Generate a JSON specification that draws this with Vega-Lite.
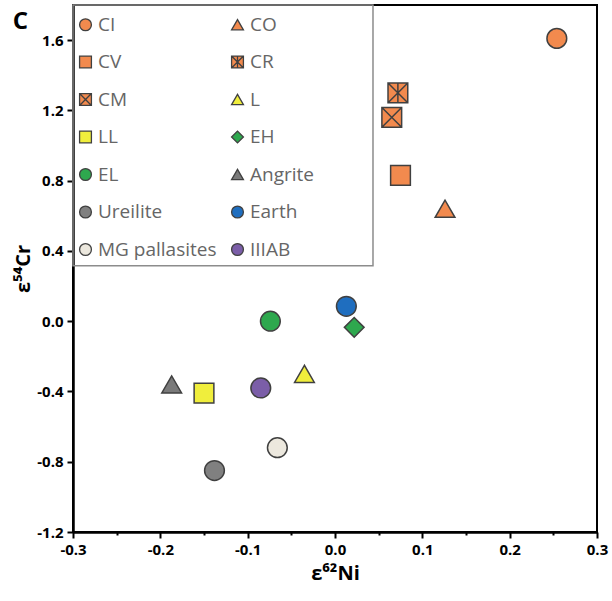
{
  "$schema": "https://vega.github.io/schema/vega-lite/v6.json",
  "width": 524,
  "height": 527,
  "autosize": {"type": "none"},
  "padding": {"left": 73, "top": 5, "right": 15, "bottom": 69},
  "background": "white",
  "config": {"view": {"stroke": "black", "strokeWidth": 2}, "font": "Open Sans"},
  "data": {"values": [
    {"group": "CI", "ni": 0.254, "cr": 1.61},
    {"group": "CO", "ni": 0.126, "cr": 0.64},
    {"group": "CV", "ni": 0.075, "cr": 0.83},
    {"group": "CR", "ni": 0.072, "cr": 1.30},
    {"group": "CM", "ni": 0.065, "cr": 1.16},
    {"group": "L", "ni": -0.035, "cr": -0.30},
    {"group": "LL", "ni": -0.15, "cr": -0.41},
    {"group": "EH", "ni": 0.022, "cr": -0.035},
    {"group": "EL", "ni": -0.074, "cr": 0.0},
    {"group": "Angrite", "ni": -0.187, "cr": -0.36},
    {"group": "Ureilite", "ni": -0.138, "cr": -0.85},
    {"group": "Earth", "ni": 0.013, "cr": 0.085},
    {"group": "MG pallasites", "ni": -0.066, "cr": -0.72},
    {"group": "IIIAB", "ni": -0.085, "cr": -0.38}
  ]},
  "layer": [
    {
      "data": {"values": [{}]},
      "mark": {"type": "rect", "fill": null, "stroke": "#8c8c8c", "strokeWidth": 1.5},
      "encoding": {
        "x": {"datum": -0.3, "type": "quantitative", "scale": {"domain": [-0.3, 0.3], "nice": false, "zero": false}, "title": "ε⁶²Ni"},
        "x2": {"datum": 0.0435},
        "y": {"datum": 1.8, "type": "quantitative", "scale": {"domain": [-1.2, 1.8], "nice": false, "zero": false}, "title": "ε⁵⁴Cr"},
        "y2": {"datum": 0.315}
      }
    },
    {
      "data": {"values": [{}]},
      "mark": {"type": "text", "text": "C", "align": "left", "baseline": "middle", "fontSize": 24, "fontWeight": "bold", "font": "Open Sans", "color": "black"},
      "encoding": {
        "x": {"datum": -0.369, "type": "quantitative", "scale": {"domain": [-0.3, 0.3], "nice": false, "zero": false}, "title": "ε⁶²Ni"},
        "y": {"datum": 1.705, "type": "quantitative", "scale": {"domain": [-1.2, 1.8], "nice": false, "zero": false}, "title": "ε⁵⁴Cr"}
      }
    },
    {
      "mark": {"type": "point", "filled": true, "size": 390, "stroke": "#404040", "strokeWidth": 1.5, "opacity": 1},
      "encoding": {
        "x": {
          "field": "ni", "type": "quantitative",
          "scale": {"domain": [-0.3, 0.3], "nice": false, "zero": false},
          "title": "ε⁶²Ni",
          "axis": {
            "values": [-0.3, -0.25, -0.2, -0.15, -0.1, -0.05, 0, 0.05, 0.1, 0.15, 0.2, 0.25, 0.3],
            "labelExpr": "abs(round(datum.value*100)) % 10 == 0 ? (datum.value < -0.001 ? '-' : '') + format(abs(datum.value), '.1f') : ''",
            "tickSize": {"condition": {"test": "abs(round(datum.value*100)) % 10 == 0", "value": 6}, "value": 3},
            "grid": false, "domainColor": "black", "domainWidth": 2.5, "tickColor": "black", "tickWidth": 2,
            "labelFont": "Open Sans", "labelFontSize": 15, "labelFontWeight": "bold", "labelColor": "black", "labelPadding": 4,
            "labelFlush": false, "labelOverlap": false, "labelBound": false,
            "titleFont": "Open Sans", "titleFontSize": 20, "titleFontWeight": "bold", "titleColor": "black", "titlePadding": 6
          }
        },
        "y": {
          "field": "cr", "type": "quantitative",
          "scale": {"domain": [-1.2, 1.8], "nice": false, "zero": false},
          "title": "ε⁵⁴Cr",
          "axis": {
            "values": [-1.2, -1.0, -0.8, -0.6, -0.4, -0.2, 0, 0.2, 0.4, 0.6, 0.8, 1.0, 1.2, 1.4, 1.6],
            "labelExpr": "abs(round(datum.value*10)) % 4 == 0 ? (datum.value < -0.001 ? '-' : '') + format(abs(datum.value), '.1f') : ''",
            "tickSize": {"condition": {"test": "abs(round(datum.value*10)) % 4 == 0", "value": 6}, "value": 3},
            "grid": false, "domainColor": "black", "domainWidth": 2.5, "tickColor": "black", "tickWidth": 2,
            "labelFont": "Open Sans", "labelFontSize": 15, "labelFontWeight": "bold", "labelColor": "black", "labelPadding": 4,
            "labelOverlap": false, "labelBound": false,
            "titleFont": "Open Sans", "titleFontSize": 20, "titleFontWeight": "bold", "titleColor": "black", "titlePadding": 3
          }
        },
        "color": {
          "field": "group", "type": "nominal",
          "scale": {
            "domain": ["CI", "CO", "CV", "CR", "CM", "L", "LL", "EH", "EL", "Angrite", "Ureilite", "Earth", "MG pallasites", "IIIAB"],
            "range": ["#F28A4E", "#F28A4E", "#F28A4E", "#F28A4E", "#F28A4E", "#F0EE3C", "#F0EE3C", "#2EA84E", "#2EA84E", "#7A7A7A", "#808080", "#1F6EBF", "#ECE8DE", "#7B5EA8"]
          },
          "legend": {"orient": "none", "legendX": 3, "legendY": 10, "columns": 2, "direction": "horizontal", "title": null, "padding": 0, "labelFont": "Open Sans", "labelFontSize": 19, "labelColor": "#666666", "labelOffset": 3, "symbolSize": 140, "symbolStrokeColor": "#404040", "symbolStrokeWidth": 1.3, "rowPadding": 17.5, "columnPadding": 11, "labelLimit": 300}
        },
        "shape": {
          "field": "group", "type": "nominal",
          "scale": {
            "domain": ["CI", "CO", "CV", "CR", "CM", "L", "LL", "EH", "EL", "Angrite", "Ureilite", "Earth", "MG pallasites", "IIIAB"],
            "range": ["circle", "triangle-up", "square", "M-1,-1L1,-1L1,1L-1,1Z M-1,-1L1,1 M1,-1L-1,1 M0,-1L0,1", "M-1,-1L1,-1L1,1L-1,1Z M-1,-1L1,1 M1,-1L-1,1", "triangle-up", "square", "diamond", "circle", "triangle-up", "circle", "circle", "circle", "circle"]
          },
          "legend": {"orient": "none", "legendX": 3, "legendY": 10, "columns": 2, "direction": "horizontal", "title": null, "padding": 0, "labelFont": "Open Sans", "labelFontSize": 19, "labelColor": "#666666", "labelOffset": 3, "symbolSize": 140, "symbolStrokeColor": "#404040", "symbolStrokeWidth": 1.3, "rowPadding": 17.5, "columnPadding": 11, "labelLimit": 300}
        }
      }
    }
  ]
}
